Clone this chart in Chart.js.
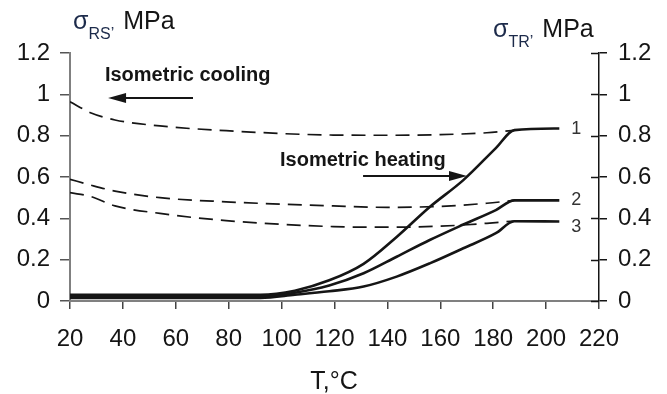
<!DOCTYPE html>
<html>
<head>
<meta charset="utf-8">
<script src="https://cdn.jsdelivr.net/npm/chart.js@4.4.1/dist/chart.umd.min.js"></script>
<style>
  body { margin: 0; background: #fff; }
  canvas { display: block; }
</style>
</head>
<body>
<canvas id="myChart" width="667" height="394"></canvas>
<script>
// temperatures, degC
var heatT = [20, 92, 105, 118, 131, 143.5, 156, 168.7, 181, 188, 205];
var coolT = [20, 28, 37, 54, 79, 119.5, 140, 160, 177.6, 188];

// isometric heating, sigma_TR (MPa)
var heat1 = [0.03, 0.03, 0.05, 0.10, 0.18, 0.31, 0.455, 0.585, 0.74, 0.827, 0.835];
var heat2 = [0.022, 0.022, 0.04, 0.075, 0.134, 0.214, 0.295, 0.37, 0.44, 0.487, 0.487];
var heat3 = [0.015, 0.015, 0.03, 0.047, 0.07, 0.118, 0.182, 0.255, 0.328, 0.386, 0.385];

// isometric cooling, sigma_RS (MPa)
var cool1 = [0.964, 0.91, 0.876, 0.847, 0.824, 0.803, 0.802, 0.805, 0.814, 0.826];
var cool2 = [0.589, 0.56, 0.532, 0.5, 0.48, 0.46, 0.453, 0.458, 0.473, 0.487];
var cool3 = [0.524, 0.505, 0.46, 0.424, 0.389, 0.36, 0.357, 0.362, 0.376, 0.387];

var xTicks = [20, 40, 60, 80, 100, 120, 140, 160, 180, 200, 220];
var yTicks = [0, 0.2, 0.4, 0.6, 0.8, 1, 1.2];
var curveLabels = ['1', '2', '3'];

var FONT = '"Liberation Sans", Arial, sans-serif';
var INK = '#151515';

function pts(xs, ys) {
    return xs.map(function(x, i) { return {x: x, y: ys[i]}; });
}

function solid(data) {
    return { data: data, borderColor: INK, borderWidth: 2.6, pointRadius: 0, cubicInterpolationMode: 'monotone', fill: false };
}
function dashed(data) {
    return { data: data, borderColor: INK, borderWidth: 1.7, borderDash: [14, 8], pointRadius: 0, cubicInterpolationMode: 'monotone', fill: false };
}

function arrow(ctx, x1, y1, x2, y2) {
    var dir = x2 > x1 ? 1 : -1;
    ctx.beginPath();
    ctx.moveTo(x1, y1);
    ctx.lineTo(x2 - dir * 14, y2);
    ctx.lineWidth = 2;
    ctx.strokeStyle = INK;
    ctx.stroke();
    ctx.beginPath();
    ctx.moveTo(x2, y2);
    ctx.lineTo(x2 - dir * 18, y2 - 5);
    ctx.lineTo(x2 - dir * 18, y2 + 5);
    ctx.closePath();
    ctx.fillStyle = INK;
    ctx.fill();
}

function sigmaTitle(ctx, x, y, sub) {
    ctx.fillStyle = '#1c2a4a';
    ctx.textAlign = 'left';
    ctx.textBaseline = 'alphabetic';
    ctx.font = '25px ' + FONT;
    ctx.fillText('σ', x, y);
    x += ctx.measureText('σ').width;
    ctx.font = '16px ' + FONT;
    ctx.fillText(sub + '\u2019', x, y + 10);
    x += ctx.measureText(sub + '\u2019').width + 9;
    ctx.fillStyle = INK;
    ctx.font = '25px ' + FONT;
    ctx.fillText('MPa', x, y);
}

var decorations = {
    id: 'decorations',
    afterDraw: function(chart) {
        var ctx = chart.ctx;
        var sx = chart.scales.x, sy = chart.scales.y, s2 = chart.scales.y2;
        var area = chart.chartArea;
        ctx.save();

        // inner half of the right-axis ticks
        ctx.strokeStyle = INK;
        ctx.lineWidth = 1.5;
        yTicks.forEach(function(v) {
            var py = Math.round(s2.getPixelForValue(v)) + 0.5;
            ctx.beginPath();
            ctx.moveTo(area.right - 8, py);
            ctx.lineTo(area.right, py);
            ctx.stroke();
        });

        // annotations
        ctx.fillStyle = INK;
        ctx.font = 'bold 20px ' + FONT;
        ctx.textAlign = 'left';
        ctx.textBaseline = 'middle';
        ctx.fillText('Isometric cooling', sx.getPixelForValue(33.2), sy.getPixelForValue(1.093));
        ctx.fillText('Isometric heating', sx.getPixelForValue(99.4), sy.getPixelForValue(0.682));
        arrow(ctx, sx.getPixelForValue(66.5), sy.getPixelForValue(0.982), sx.getPixelForValue(34.4), sy.getPixelForValue(0.982));
        arrow(ctx, sx.getPixelForValue(130.8), sy.getPixelForValue(0.605), sx.getPixelForValue(170.1), sy.getPixelForValue(0.605));

        // curve numbers
        ctx.font = '18px ' + FONT;
        ctx.fillStyle = '#333';
        var ends = [0.83, 0.489, 0.36];
        curveLabels.forEach(function(t, i) {
            ctx.fillText(t, sx.getPixelForValue(209.5), s2.getPixelForValue(ends[i]));
        });

        // axis titles
        sigmaTitle(ctx, 73, 29, 'RS');
        sigmaTitle(ctx, 493, 37, 'TR');
        ctx.fillStyle = INK;
        ctx.font = '25px ' + FONT;
        ctx.textAlign = 'center';
        ctx.textBaseline = 'alphabetic';
        ctx.fillText('T,°C', (area.left + area.right) / 2 - 0.5, 389);

        ctx.restore();
    }
};

var tickFont = { family: FONT, size: 24 };

var config = {
    type: 'line',
    data: {
        datasets: [
            Object.assign(solid(pts(heatT, heat1)), { yAxisID: 'y2' }),
            Object.assign(solid(pts(heatT, heat2)), { yAxisID: 'y2' }),
            Object.assign(solid(pts(heatT, heat3)), { yAxisID: 'y2' }),
            Object.assign(dashed(pts(coolT, cool1)), { yAxisID: 'y' }),
            Object.assign(dashed(pts(coolT, cool2)), { yAxisID: 'y' }),
            Object.assign(dashed(pts(coolT, cool3)), { yAxisID: 'y' })
        ]
    },
    options: {
        responsive: false,
        animation: false,
        events: [],
        layout: { padding: { top: 53, left: 0, right: 0, bottom: 0 } },
        plugins: { legend: { display: false }, tooltip: { enabled: false }, title: { display: false } },
        scales: {
            x: {
                type: 'linear', min: 20, max: 220,
                afterBuildTicks: function(s) { s.ticks = xTicks.map(function(v) { return {value: v}; }); },
                ticks: { font: tickFont, color: INK, padding: 16, maxRotation: 0, autoSkip: false },
                grid: { drawOnChartArea: false, tickLength: 8, color: '#444', lineWidth: 1.5 },
                border: { color: '#808080', width: 2 },
                afterFit: function(s) { s.height = 93; }
            },
            y: {
                position: 'left', min: 0, max: 1.2,
                afterBuildTicks: function(s) { s.ticks = yTicks.map(function(v) { return {value: v}; }); },
                ticks: { font: tickFont, color: INK, padding: 10, callback: function(v) { return String(+v.toFixed(1)); } },
                grid: { drawOnChartArea: false, tickLength: 10, color: '#555', lineWidth: 1.5 },
                border: { color: '#808080', width: 2 },
                afterFit: function(s) { s.width = 70; }
            },
            y2: {
                position: 'right', min: 0, max: 1.2,
                afterBuildTicks: function(s) { s.ticks = yTicks.map(function(v) { return {value: v}; }); },
                ticks: { font: tickFont, color: INK, padding: 11, callback: function(v) { return String(+v.toFixed(1)); } },
                grid: { drawOnChartArea: false, tickLength: 8, color: INK, lineWidth: 1.5 },
                border: { color: INK, width: 1.5 },
                afterFit: function(s) { s.width = 68; }
            }
        }
    },
    plugins: [decorations]
};

var ctx = document.getElementById('myChart').getContext('2d');
var myChart = new Chart(ctx, config);
</script>
</body>
</html>
